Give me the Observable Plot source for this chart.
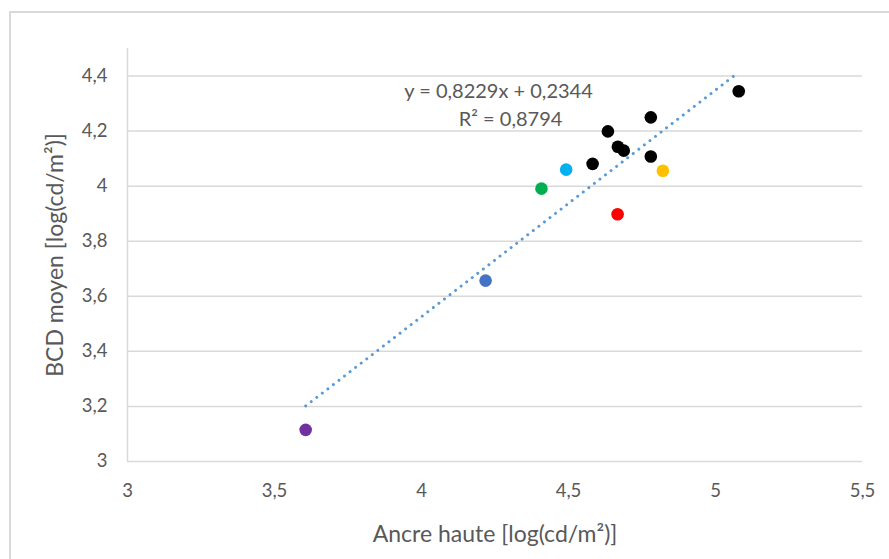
<!DOCTYPE html>
<html>
<head>
<meta charset="utf-8">
<script src="https://cdn.jsdelivr.net/npm/d3@7"></script>
<script src="https://cdn.jsdelivr.net/npm/@observablehq/plot@0.6"></script>
<style>
  html, body { margin: 0; padding: 0; background: #fff; overflow: hidden; }
  #wrap { position: relative; width: 889px; height: 559px; overflow: hidden; }
  #frame { position: absolute; left: 9px; top: 11px; width: 2000px; height: 2000px;
           border: 2px solid #d9d9d9; pointer-events: none; box-sizing: border-box; }
  #chart { position: absolute; left: 0; top: 0; }
</style>
</head>
<body>
<div id="wrap"><div id="chart"></div><div id="frame"></div></div>
<script>
// Data
const ancreHaute = [5.079, 4.780, 4.634, 4.668, 4.688, 4.780, 4.582, 4.492, 4.821, 4.408, 4.667, 4.218, 3.606];
const bcdMoyen   = [4.345, 4.250, 4.199, 4.143, 4.129, 4.108, 4.081, 4.060, 4.056, 3.991, 3.898, 3.657, 3.115];
const groupe     = ["noir","noir","noir","noir","noir","noir","noir","cyan","jaune","vert","rouge","bleu","violet"];
const groupNames = ["noir","cyan","jaune","vert","rouge","bleu","violet"];
const groupColors = ["#000000","#00B0F0","#FFC000","#00B050","#FF0000","#4472C4","#7030A0"];
const xTicks = [3, 3.5, 4, 4.5, 5, 5.5];
const yTicks = [3, 3.2, 3.4, 3.6, 3.8, 4, 4.2, 4.4];
const slope = 0.8229, intercept = 0.2344, r2 = 0.8794;
const xTitle = "Ancre haute [log(cd/m²)]";
const yTitle = "BCD moyen [log(cd/m²)]";

const points = ancreHaute.map((x, i) => ({x, y: bcdMoyen[i], g: groupe[i]}));
const xMin = d3.min(ancreHaute), xMax = d3.max(ancreHaute);
const trend = [xMin, xMax].map(x => ({x, y: slope * x + intercept}));
const fmt = d => String(d).replace(".", ",");
const fmtN = d => d.toFixed(4).replace(".", ",");
const textColor = "#595959";
const font = "Lato, 'Open Sans', sans-serif";

const chart = Plot.plot({
  width: 889, height: 559,
  marginLeft: 127, marginRight: 27, marginTop: 48, marginBottom: 98,
  style: {fontFamily: font, background: "white"},
  x: {domain: [3, 5.5]},
  y: {domain: [3, 4.5]},
  color: {domain: groupNames, range: groupColors},
  marks: [
    Plot.ruleY(yTicks, {stroke: "#d9d9d9", strokeWidth: 1.5}),
    Plot.ruleX([3], {stroke: "#d9d9d9", strokeWidth: 1.5}),
    Plot.axisX({ticks: xTicks, tickSize: 0, tickPadding: 22, tickFormat: fmt, fontSize: 18.5, color: textColor, label: null}),
    Plot.axisY({ticks: yTicks, tickSize: 0, tickPadding: 20, tickFormat: fmt, fontSize: 18.5, color: textColor, label: null}),
    Plot.dot(points, {x: "x", y: "y", fill: "g", r: 6.3}),
    Plot.line(trend, {x: "x", y: "y", stroke: "#5B9BD5", strokeWidth: 3, strokeDasharray: "0.01 7", strokeLinecap: "round"}),
    Plot.text([`y = ${fmtN(slope)}x + ${fmtN(intercept)}`], {x: 4.262, y: 4.342, text: d => d, fontSize: 20, fill: textColor}),
    Plot.text([`R² = ${fmtN(r2)}`], {x: 4.303, y: 4.241, text: d => d, fontSize: 20, fill: textColor}),
    Plot.text([xTitle], {frameAnchor: "bottom", dy: 73, lineAnchor: "middle", textAnchor: "middle", text: d => d, fontSize: 23, fill: textColor}),
    Plot.text([yTitle], {frameAnchor: "left", dx: -72, rotate: -90, lineAnchor: "middle", textAnchor: "middle", text: d => d, fontSize: 23, fill: textColor})
  ]
});
document.getElementById("chart").appendChild(chart);
</script>
</body>
</html>
